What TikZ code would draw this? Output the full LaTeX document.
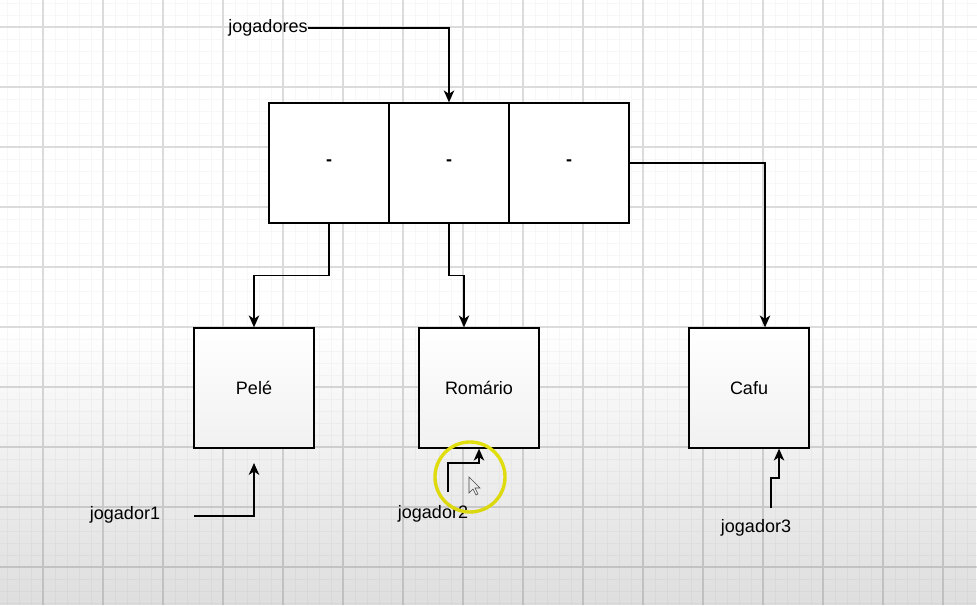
\documentclass[tikz,border=0pt]{standalone}
\usepackage{fontspec}
\setmainfont{Liberation Sans}
\usetikzlibrary{arrows.meta,fadings}
\definecolor{hl}{HTML}{F0EC10}
\tikzfading[name=fade down, top color=transparent!100, bottom color=transparent!0]

\begin{document}
\begin{tikzpicture}[x=0.025cm,y=-0.025cm,
        box/.style={draw,line width=0.9pt,fill=white,minimum width=3cm,minimum height=3cm,inner sep=0pt,font=\fontsize{12.8}{15}\selectfont},
        lbl/.style={inner sep=0pt,font=\fontsize{12.8}{15}\selectfont},
        link/.style={line width=1.05pt,-{Stealth[length=8.5pt,width=7.5pt,inset=2.5pt]}}]
        \useasboundingbox (0,0) rectangle (977,605);
        \fill[white] (0,0) rectangle (977,605);
        \foreach \x in {7,19,...,977} \draw[black!3,line width=0.5pt] (\x,0) -- (\x,605);
        \foreach \y in {3,15,...,605} \draw[black!3,line width=0.5pt] (0,\y) -- (977,\y);
        \foreach \x in {43,103,...,977} \draw[black!14,line width=1.1pt] (\x,0) -- (\x,605);
        \foreach \y in {27,87,...,605} \draw[black!14,line width=1.1pt] (0,\y) -- (977,\y);
        \draw (329,163) node[box](c1) {\textbf{-}};
        \draw (449,163) node[box](c2) {\textbf{-}};
        \draw (569,163) node[box](c3) {\textbf{-}};
        \draw (254,388) node[box](pele) {Pelé};
        \draw (479,388) node[box](romario) {Romário};
        \draw (749,388) node[box](cafu) {Cafu};
        \draw (268,28) node[lbl](jogadores) {jogadores};
        \draw (125,515) node[lbl](jogador1) {jogador1};
        \draw (433,514) node[lbl](jogador2) {jogador2};
        \draw (756,528) node[lbl](jogador3) {jogador3};
        \coordinate (j1) at (194,516);
        \coordinate (p1) at (254,463);
        \coordinate (j2) at (448,492);
        \coordinate (j3) at (771,508);
        \draw[link] (jogadores.east) -| (c2.north);
        \draw[link] (c1.south) -- ++(0,52) -| (pele.north);
        \draw[link] (c2.south) -- ++(0,52) -| ([xshift=-0.375cm]romario.north);
        \draw[link] (c3.east) -| ([xshift=0.4cm]cafu.north);
        \draw[link] (j1) -| (p1);
        \draw[link] (j2) -- ++(0,-29) -| (romario.south);
        \draw[link] (j3) -- ++(0,-30) -| ([xshift=0.75cm]cafu.south);
        \draw[hl,line width=2.4pt] (470,477) circle[radius=35];
        \draw[fill=white,draw=black!70,line width=0.4pt] (469,477) -- ++(0,16) -- ++(4,-4) -- ++(3,6) -- ++(2,-1) -- ++(-3,-6) -- ++(5,0) -- cycle;
        \fill[black,fill opacity=0.13,path fading=fade down] (0,330) rectangle (977,605);
    \end{tikzpicture}
\end{document}
